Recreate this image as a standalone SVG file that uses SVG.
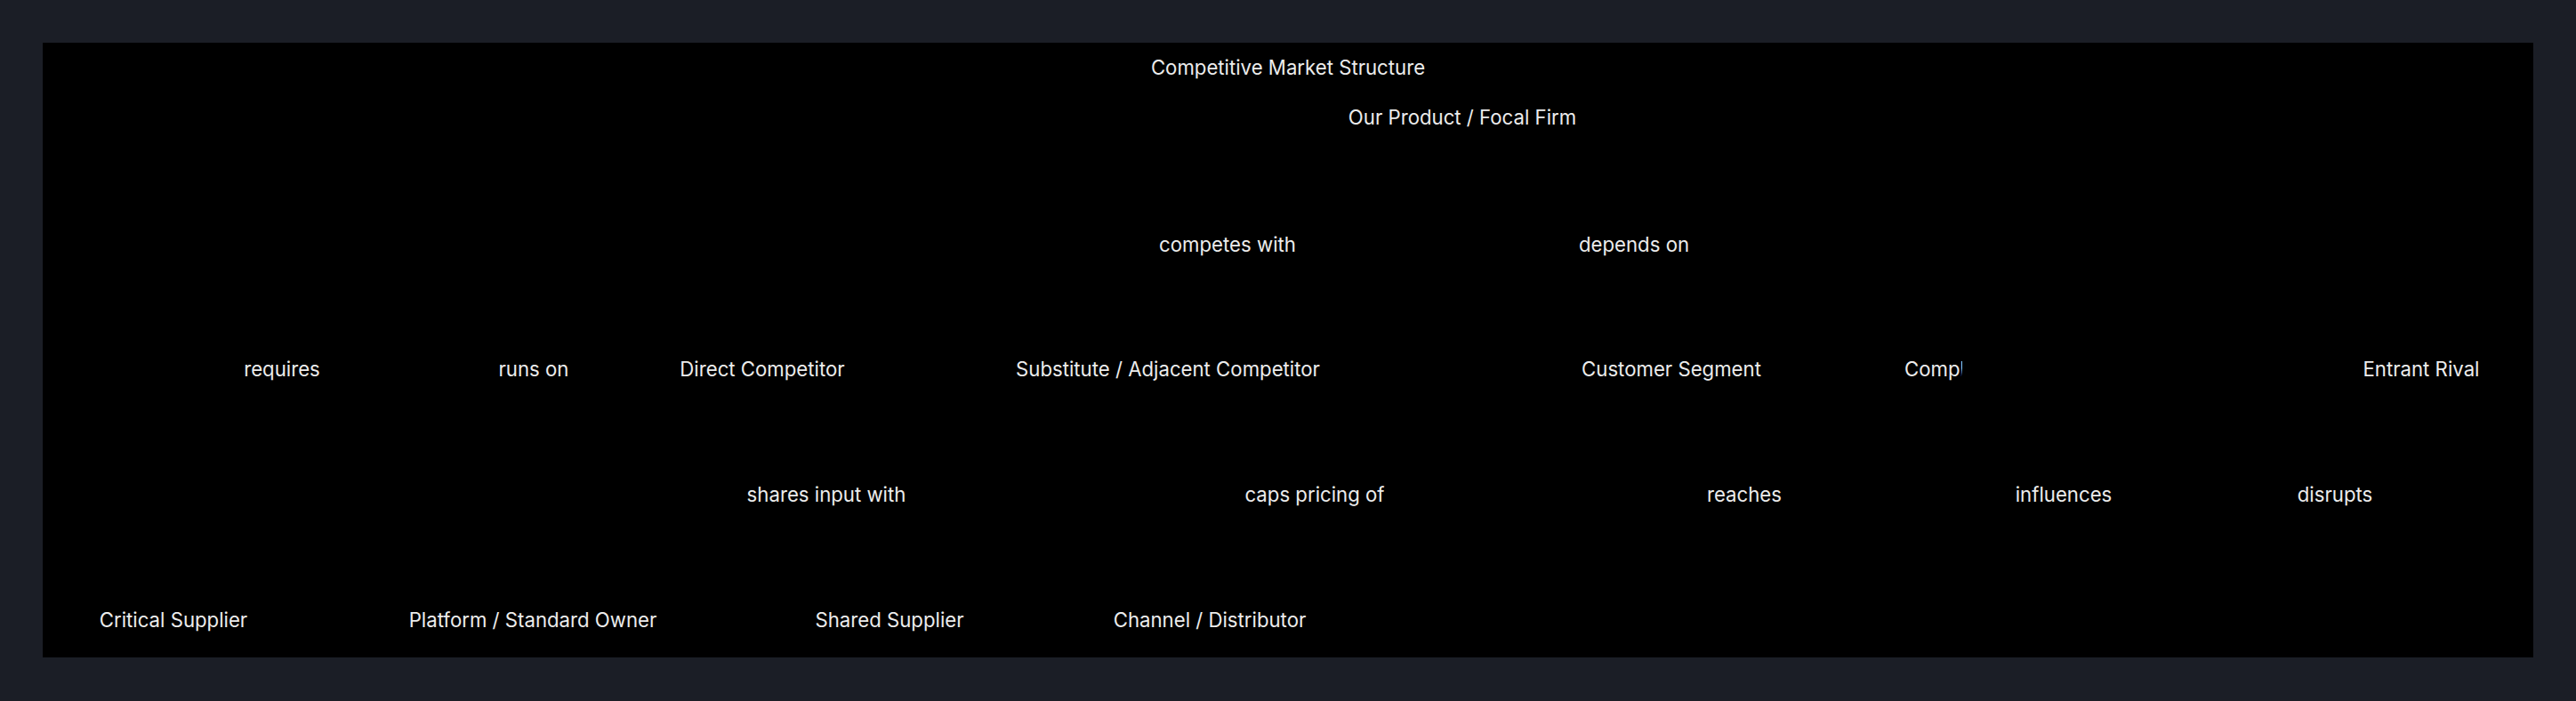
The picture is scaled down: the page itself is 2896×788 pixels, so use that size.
<svg xmlns="http://www.w3.org/2000/svg" width="2896" height="788" viewBox="0 0 2896 788">
<style>
text{font-family:Inter,"Liberation Sans",sans-serif;font-size:22.2px;fill:#ececec;text-anchor:middle}
.s{text-anchor:start}
</style>
<defs>
<clipPath id="clipComp"><polygon points="2100,390 2206,390 2206,414 2203,440 2100,440"/></clipPath>
</defs>
<rect x="0" y="0" width="2896" height="788" fill="#1b1e26"/>
<rect x="48" y="48" width="2800" height="691" fill="#000000"/>
<text id="title" x="1448" y="84">Competitive Market Structure</text>
<g id="connectors">
<text x="1380" y="283">competes with</text>
<text x="1837" y="283">depends on</text>
<text x="317" y="423">requires</text>
<text x="600" y="423">runs on</text>
<text x="929" y="564">shares input with</text>
<text x="1478" y="564">caps pricing of</text>
<text x="1961" y="564">reaches</text>
<text x="2320" y="564">influences</text>
<text x="2625" y="564">disrupts</text>
</g>
<g id="focal"><text x="1644" y="140">Our Product / Focal Firm</text></g>
<g id="direct"><text x="857" y="423">Direct Competitor</text></g>
<g id="substitute"><text x="1313" y="423">Substitute / Adjacent Competitor</text></g>
<g id="customer"><text x="1879" y="423">Customer Segment</text></g>
<g id="complementor"><text class="s" x="2141" y="423" clip-path="url(#clipComp)">Complementor</text></g>
<g id="entrant"><text x="2722" y="423">Entrant Rival</text></g>
<g id="critical"><text x="195" y="705">Critical Supplier</text></g>
<g id="platform"><text x="599" y="705">Platform / Standard Owner</text></g>
<g id="shared"><text x="1000" y="705">Shared Supplier</text></g>
<g id="channel"><text x="1360" y="705">Channel / Distributor</text></g>
</svg>
